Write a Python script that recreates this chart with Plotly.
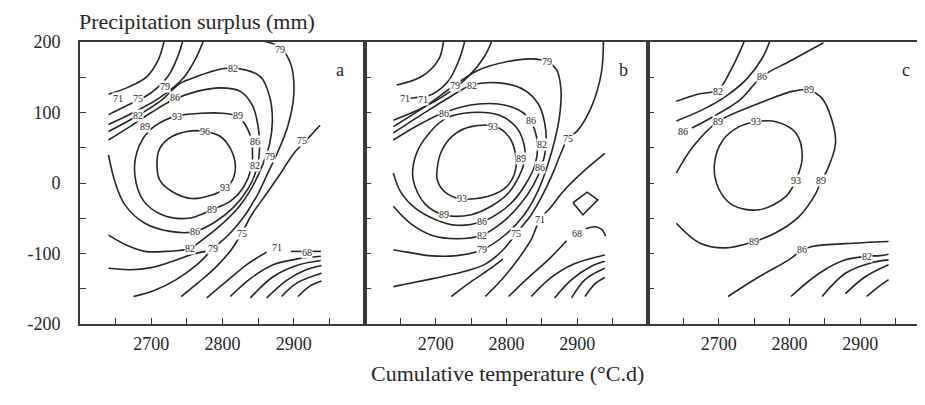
import plotly.graph_objects as go

# ---------------- data (traced contour lines, data units) ----------------
# Panel a
A_LINES = [
    [(2640,126),(2668,136),(2694,151),(2710,175),(2718,201)],
    [(2640,97),(2668,111),(2700,128),(2724,152),(2737,179),(2744,201)],
    [(2640,83),(2675,100),(2712,121),(2746,150),(2763,178),(2773,201)],
    [(2640,73),(2680,95),(2715,118),(2740,141),(2764,151),(2787,159),(2815,163),(2853,151),(2866,123),(2870,89),(2866,55),(2856,25),(2842,-5),(2822,-35),(2795,-62),(2770,-82),(2754,-93),(2720,-97),(2691,-97),(2665,-88),(2640,-74)],
    [(2640,61),(2670,80),(2700,100),(2731,118),(2764,130),(2797,135),(2825,130),(2842,110),(2850,80),(2852,50),(2848,20),(2836,-8),(2815,-35),(2790,-55),(2761,-69),(2729,-69),(2691,-57),(2663,-31),(2649,2),(2640,40)],
    [(2677,11),(2680,44),(2696,73),(2719,89),(2740,96),(2770,99),(2800,99),(2822,94),(2836,75),(2842,50),(2840,20),(2830,-5),(2812,-25),(2785,-38),(2752,-50),(2715,-45),(2689,-25),(2677,11)],
    [(2708,25),(2712,49),(2729,66),(2757,74),(2775,73),(2797,66),(2811,49),(2818,25),(2814,4),(2804,-8),(2785,-17),(2757,-22),(2729,-12),(2712,4),(2708,25)],
    [(2858,201),(2880,193),(2896,168),(2900,125),(2892,82),(2878,45),(2864,15),(2850,-15),(2832,-45),(2810,-72),(2787,-93),(2765,-115),(2735,-137),(2705,-152),(2675,-161)],
    [(2640,-121),(2670,-123),(2700,-120),(2730,-111),(2758,-101),(2776,-97)],
    [(2937,82),(2915,58),(2900,42),(2883,16),(2864,-12),(2841,-45),(2827,-71),(2812,-95),(2790,-120),(2765,-142),(2742,-161)],
    [(2778,-163),(2805,-140),(2835,-115),(2862,-98)],
    [(2896,-97),(2938,-97)],
    [(2811,-161),(2840,-135),(2871,-116),(2904,-108),(2938,-104)],
    [(2839,-163),(2871,-133),(2904,-117),(2938,-110)],
    [(2862,-163),(2890,-138),(2915,-124),(2939,-117)],
    [(2883,-161),(2904,-142),(2939,-128)],
    [(2906,-161),(2923,-146),(2939,-139)],
]
A_LABELS = [
    (2654,120,"71"),(2682,120,"75"),(2719,137,"79"),(2733,121,"86"),(2681,96,"82"),
    (2691,80,"89"),(2736,94,"93"),(2815,163,"82"),(2880,190,"79"),(2775,73,"96"),
    (2822,96,"89"),(2846,59,"86"),(2846,25,"82"),(2867,37,"79"),(2911,61,"75"),
    (2804,-6,"93"),(2785,-38,"89"),(2761,-69,"86"),(2754,-93,"82"),(2787,-93,"79"),
    (2827,-71,"75"),(2876,-92,"71"),(2918,-99,"68"),
]

# Panel b
B_LINES = [
    [(2645,139),(2680,151),(2704,175),(2711,201)],
    [(2652,120),(2670,121),(2695,126),(2718,145),(2733,175),(2741,201)],
    [(2640,89),(2680,106),(2715,126),(2745,150),(2768,178),(2779,201)],
    [(2640,80),(2690,112),(2727,139),(2760,160),(2800,172),(2835,176),(2857,172),(2871,160),(2877,132),(2875,95),(2868,60),(2858,25),(2845,-10),(2825,-45),(2800,-72),(2765,-95),(2730,-103),(2690,-103),(2660,-98),(2640,-95)],
    [(2640,71),(2680,97),(2720,122),(2751,139),(2790,142),(2825,132),(2845,112),(2854,85),(2856,54),(2850,25),(2838,-3),(2818,-32),(2795,-55),(2765,-74),(2730,-79),(2694,-74),(2665,-58),(2640,-33)],
    [(2640,61),(2675,82),(2712,100),(2760,112),(2800,110),(2828,96),(2840,75),(2844,50),(2840,25),(2828,0),(2810,-25),(2790,-42),(2765,-55),(2730,-60),(2700,-52),(2670,-35),(2650,-12),(2640,14)],
    [(2668,5),(2672,40),(2690,70),(2715,92),(2750,100),(2790,96),(2813,80),(2824,58),(2826,35),(2818,10),(2802,-15),(2780,-32),(2750,-45),(2711,-45),(2685,-30),(2668,5)],
    [(2702,20),(2708,45),(2725,68),(2750,80),(2784,80),(2803,66),(2812,45),(2813,20),(2803,-2),(2785,-15),(2758,-22),(2732,-22),(2712,-12),(2702,5),(2702,20)],
    [(2937,201),(2934,156),(2920,108),(2901,75),(2887,63),(2876,40),(2866,15),(2852,-15),(2835,-45),(2814,-71),(2795,-95),(2770,-115),(2735,-127),(2694,-136),(2660,-143),(2640,-147)],
    [(2722,-161),(2750,-140),(2775,-123),(2795,-108)],
    [(2770,-161),(2795,-135),(2815,-110),(2835,-80),(2847,-52),(2862,-35),(2880,-12),(2906,14),(2939,42)],
    [(2803,-161),(2830,-135),(2860,-108),(2885,-82)],
    [(2912,-65),(2925,-62),(2935,-66),(2940,-75)],
    [(2835,-161),(2862,-135),(2895,-115),(2939,-102)],
    [(2868,-163),(2892,-137),(2920,-118),(2939,-111)],
    [(2892,-163),(2911,-137),(2939,-121)],
    [(2911,-161),(2925,-143),(2939,-134)],
]
B_DIAMOND = [(2894,-28),(2914,-13),(2929,-24),(2908,-45),(2894,-28)]
B_LABELS = [
    (2657,120,"71"),(2682,119,"71"),(2727,139,"79"),(2751,139,"82"),(2712,98,"86"),
    (2781,80,"93"),(2835,89,"86"),(2850,54,"82"),(2821,35,"89"),(2848,22,"86"),
    (2857,172,"79"),(2887,63,"75"),(2737,-22,"93"),(2711,-45,"89"),(2765,-55,"86"),
    (2765,-74,"82"),(2765,-95,"79"),(2814,-71,"75"),(2847,-52,"71"),(2899,-71,"68"),
]

# Panel c
C_LINES = [
    [(2640,116),(2670,126),(2699,132),(2717,160),(2731,189),(2736,201)],
    [(2640,88),(2675,103),(2710,123),(2740,148),(2762,178),(2772,201)],
    [(2662,78),(2690,93),(2730,118),(2761,151),(2801,173),(2848,199)],
    [(2640,14),(2664,52),(2699,87),(2757,113),(2804,130),(2827,132),(2846,120),(2860,89),(2865,56),(2853,18),(2845,4),(2837,-15),(2813,-48),(2780,-71),(2750,-83),(2710,-92),(2673,-85),(2640,-57)],
    [(2753,87),(2781,87),(2809,71),(2818,37),(2809,4),(2795,-19),(2757,-38),(2719,-31),(2699,-6),(2694,28),(2706,61),(2729,80),(2753,87)],
    [(2713,-161),(2757,-133),(2799,-109),(2818,-95),(2832,-90),(2879,-86),(2940,-83)],
    [(2802,-161),(2842,-128),(2879,-109),(2909,-104),(2928,-103),(2940,-101)],
    [(2846,-161),(2879,-128),(2916,-113),(2940,-109)],
    [(2879,-157),(2907,-133),(2940,-116)],
    [(2909,-161),(2926,-147),(2940,-137)],
]
C_LABELS = [
    (2699,130,"82"),(2761,151,"86"),(2650,73,"86"),(2699,87,"89"),(2827,132,"89"),
    (2753,87,"93"),(2809,4,"93"),(2845,4,"89"),(2750,-83,"89"),(2818,-95,"86"),
    (2909,-104,"82"),
]

PANEL_LETTERS = ["a", "b", "c"]
X_TICKS = [2650, 2700, 2750, 2800, 2850, 2900, 2950]
X_TICKTEXT = ["", "2700", "", "2800", "", "2900", ""]
Y_TICKS = [-200, -150, -100, -50, 0, 50, 100, 150, 200]
Y_TICKTEXT = ["-200", "", "-100", "", "0", "", "100", "", "200"]

# ---------------- figure ----------------
INK = "#262626"
SERIF = "Liberation Serif, Times New Roman, serif"
fig = go.Figure()

panels = [(A_LINES, A_LABELS, "x", "y"), (B_LINES, B_LABELS, "x2", "y2"), (C_LINES, C_LABELS, "x3", "y3")]
for lines, labels, xa, ya in panels:
    for pts in lines:
        fig.add_trace(go.Scatter(
            x=[p[0] for p in pts], y=[p[1] for p in pts], mode="lines",
            line=dict(color=INK, width=1.6, shape="spline", smoothing=1.0),
            xaxis=xa, yaxis=ya, showlegend=False, hoverinfo="skip"))
    for (lx, ly, t) in labels:
        fig.add_annotation(x=lx, y=ly, xref=xa, yref=ya, text=t, showarrow=False,
                           font=dict(family=SERIF, size=10, color=INK),
                           bgcolor="white", borderpad=0)

fig.add_trace(go.Scatter(
    x=[p[0] for p in B_DIAMOND], y=[p[1] for p in B_DIAMOND], mode="lines",
    line=dict(color=INK, width=1.6), xaxis="x2", yaxis="y2",
    showlegend=False, hoverinfo="skip"))

for xa, letter in zip(["x", "x2", "x3"], PANEL_LETTERS):
    fig.add_annotation(x=2965, y=161, xref=xa, yref=xa.replace("x", "y"), text=letter,
                       showarrow=False, font=dict(family=SERIF, size=18, color=INK))

doms = [[0, 0.3373], [0.3373, 0.6722], [0.6722, 1.0]]
xranges = [[2600, 3000], [2600, 3000], [2600, 2991.5]]
axis_common = dict(showgrid=False, zeroline=False, showline=True, linecolor="#3a3a3a", linewidth=1.6,
                   ticks="inside", ticklen=6, tickwidth=1.4, tickcolor="#3a3a3a",
                   tickfont=dict(family=SERIF, size=18, color=INK), automargin=False)
layout = {}
for i in range(3):
    sfx = "" if i == 0 else str(i + 1)
    layout["xaxis" + sfx] = dict(domain=doms[i], range=xranges[i], anchor="y" + sfx,
                                 tickmode="array", tickvals=X_TICKS, ticktext=X_TICKTEXT,
                                 mirror=True, ticklabelstandoff=3, **axis_common)
    layout["yaxis" + sfx] = dict(domain=[0, 1], range=[-200, 200], anchor="x" + sfx,
                                 tickmode="array", tickvals=Y_TICKS, ticktext=Y_TICKTEXT,
                                 showticklabels=(i == 0), mirror=(i < 2),
                                 ticklabelstandoff=14, **axis_common)

fig.update_layout(**layout)
# page body has an 8px default margin, so the figure is made 8px smaller and
# its margins reduced so the plot area lands where it is in the reference
fig.update_layout(
    width=917, height=397, margin=dict(l=72, r=0, t=34, b=81, pad=0, autoexpand=False),
    paper_bgcolor="white", plot_bgcolor="white",
    font=dict(family=SERIF, color=INK),
)
fig.add_annotation(x=-0.004, y=1.071, xref="paper", yref="paper", xanchor="left", yanchor="middle",
                   text="Precipitation surplus (mm)", showarrow=False,
                   font=dict(family=SERIF, size=22, color=INK))
fig.add_annotation(x=0.5065, y=-0.174, xref="paper", yref="paper", xanchor="center", yanchor="middle",
                   text="Cumulative temperature (°C.d)", showarrow=False,
                   font=dict(family=SERIF, size=22, color=INK))

fig.write_html("out.html")
